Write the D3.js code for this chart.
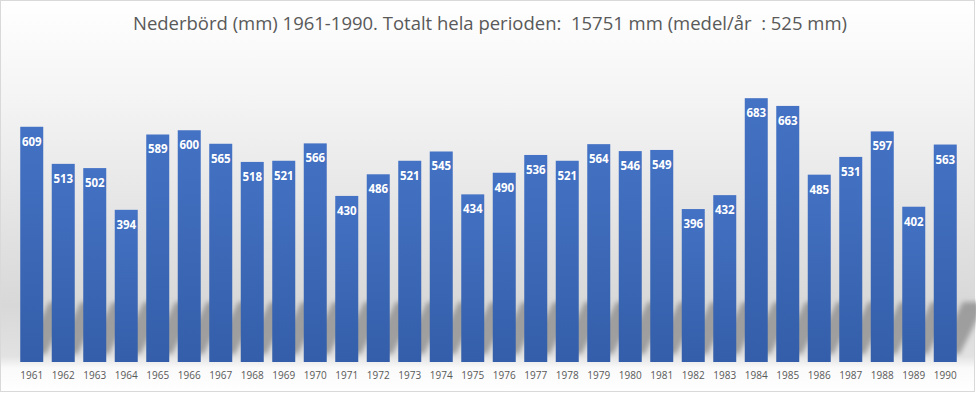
<!DOCTYPE html>
<html>
<head>
<meta charset="utf-8">
<script src="https://cdn.jsdelivr.net/npm/d3@7"></script>
<style>
  html, body { margin: 0; padding: 0; background: #fff; }
  svg { display: block; }
</style>
</head>
<body>
<svg id="chart"></svg>
<script>
const years = d3.range(1961, 1991).map(String);
const rain = [609, 513, 502, 394, 589, 600, 565, 518, 521, 566,
              430, 486, 521, 545, 434, 490, 536, 521, 564, 546,
              549, 396, 432, 683, 663, 485, 531, 597, 402, 563];
const title = "Nederbörd (mm) 1961-1990. Totalt hela perioden:  15751 mm (medel/år  : 525 mm)";

const width = 976, height = 393;

const svg = d3.select("#chart")
    .attr("width", width)
    .attr("height", height);

const defs = svg.append("defs");

// chart background: white at top fading into grey near the floor
const bg = defs.append("linearGradient")
    .attr("id", "bg")
    .attr("x1", 0).attr("y1", 0).attr("x2", 0).attr("y2", 1);
bg.append("stop").attr("offset", "0%").attr("stop-color", "#ffffff");
bg.append("stop").attr("offset", "25%").attr("stop-color", "#f4f4f4");
bg.append("stop").attr("offset", "78%").attr("stop-color", "#d8d8d8");
bg.append("stop").attr("offset", "91%").attr("stop-color", "#e2e2e2");
bg.append("stop").attr("offset", "94%").attr("stop-color", "#fafafa");
bg.append("stop").attr("offset", "100%").attr("stop-color", "#ffffff");

const barGrad = defs.append("linearGradient")
    .attr("id", "bar")
    .attr("x1", 0).attr("y1", 0).attr("x2", 0).attr("y2", 1);
barGrad.append("stop").attr("offset", "0%").attr("stop-color", "#4472c4");
barGrad.append("stop").attr("offset", "100%").attr("stop-color", "#345ea9");

defs.append("filter")
    .attr("id", "blur")
    .attr("x", "-50%").attr("y", "-50%").attr("width", "200%").attr("height", "200%")
  .append("feGaussianBlur")
    .attr("stdDeviation", 2.5);

svg.append("rect")
    .attr("x", 0.5).attr("y", 0.5)
    .attr("width", width - 2).attr("height", height - 2)
    .attr("fill", "url(#bg)")
    .attr("stroke", "#d9d9d9")
    .attr("stroke-width", 1);

const x = d3.scaleBand()
    .domain(years)
    .range([13, 964])
    .paddingInner(0.27)
    .paddingOuter(0.23);

const y = d3.scaleLinear()
    .domain([0, 800])
    .range([362, 53]);

// diagonal floor shadows behind each bar
const shTop = 302, shBot = 354, skew = 0.5;
svg.append("g")
    .attr("filter", "url(#blur)")
  .selectAll("path")
  .data(years)
  .join("path")
    .attr("d", d => {
      const x0 = x(d) + 3, x1 = x(d) + x.bandwidth() + 3;
      return `M${x0},${shBot} L${x1},${shBot} L${x1 + (shBot - shTop) * skew},${shTop} L${x0 + (shBot - shTop) * skew},${shTop} Z`;
    })
    .attr("fill", "#8a8a8a")
    .attr("opacity", 0.75);

svg.append("g")
  .selectAll("rect")
  .data(rain)
  .join("rect")
    .attr("x", (d, i) => x(years[i]))
    .attr("y", d => y(d))
    .attr("width", x.bandwidth())
    .attr("height", d => y(0) - y(d))
    .attr("fill", "url(#bar)");

svg.append("g")
  .selectAll("text")
  .data(rain)
  .join("text")
    .attr("x", (d, i) => x(years[i]) + x.bandwidth() / 2)
    .attr("y", d => y(d) + 19)
    .attr("text-anchor", "middle")
    .attr("font-family", "'Open Sans', sans-serif")
    .attr("font-weight", "bold")
    .attr("font-size", 11.5)
    .attr("fill", "#ffffff")
    .text(d => d);

const xAxis = svg.append("g")
    .attr("transform", `translate(0,${y(0)})`)
    .call(d3.axisBottom(x).tickSize(0).tickPadding(10));
xAxis.select(".domain").remove();
xAxis.selectAll("text")
    .attr("font-family", "'Open Sans', sans-serif")
    .attr("font-size", 10)
    .attr("fill", "#595959");

svg.append("text")
    .attr("x", width / 2 + 2)
    .attr("y", 30)
    .attr("text-anchor", "middle")
    .attr("font-family", "'Open Sans', sans-serif")
    .attr("font-size", 18)
    .attr("fill", "#595959")
    .style("white-space", "pre")
    .attr("textLength", 714)
    .attr("lengthAdjust", "spacingAndGlyphs")
    .text(title);
</script>
</body>
</html>
